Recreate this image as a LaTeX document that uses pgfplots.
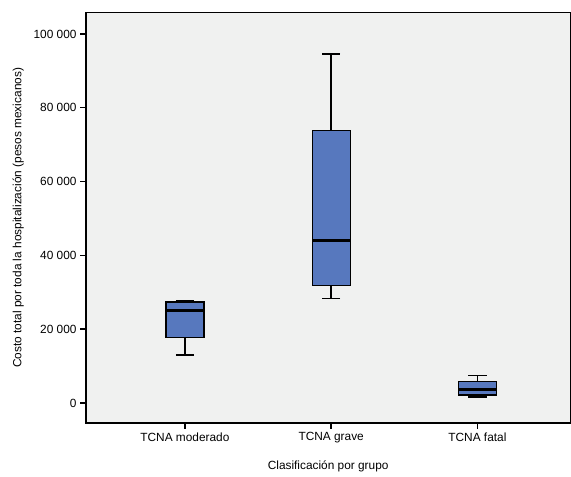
\documentclass[border=0pt]{standalone}
\usepackage{pgfplots}
\pgfplotsset{compat=1.18}
\usepgfplotslibrary{statistics}
\usepackage{fontspec}
\setmainfont{Liberation Sans}
\definecolor{bgc}{HTML}{F0F1F0}
\definecolor{boxc}{HTML}{5778BE}
\begin{document}
\begin{tikzpicture}
\begin{axis}[
  name=ax,
  scale only axis, width=484bp, height=410bp,
  xmin=0.324, xmax=3.635, ymin=-5.42, ymax=105.77,
  axis background/.style={fill=bgc},
  axis line style={line width=1.4bp},
  xtick={1,2,3}, xticklabels={TCNA moderado, TCNA grave, TCNA fatal},
  ytick={0,20,40,60,80,100},
  yticklabels={0,20 000,40 000,60 000,80 000,100 000},
  tick align=outside, xtick pos=bottom, ytick pos=left,
  major tick length=6bp, tick style={line width=1.4bp, black},
  ticklabel style={font=\fontsize{11.9}{14}\selectfont},
  label style={font=\fontsize{11.9}{14}\selectfont},
  xlabel={Clasificación por grupo},
  ylabel={Costo total por toda la hospitalización (pesos mexicanos)},
  xlabel style={at={(axis description cs:0.5,-0.105)}, anchor=center},
  ylabel style={at={(axis description cs:-0.140,0.5)}, anchor=center},
  boxplot/draw direction=y,
  boxplot/box extend=0.26,
  boxplot/whisker extend=0.125,
  boxplot/every median/.style={line width=3bp},
  boxplot/every box/.style={line width=1.3bp},
  boxplot/every whisker/.style={line width=1.5bp},
]
\addplot[draw=black, fill=boxc, line width=1.5bp, boxplot prepared={draw position=1, median=24.93, upper quartile=27.37, lower quartile=17.80, upper whisker=27.64, lower whisker=12.93}] coordinates {};
\addplot[draw=black, fill=boxc, line width=1.5bp, boxplot prepared={draw position=2, median=43.98, upper quartile=73.80, lower quartile=31.79, upper whisker=94.58, lower whisker=28.37}] coordinates {};
\addplot[draw=black, fill=boxc, line width=1.5bp, boxplot prepared={draw position=3, median=3.71, upper quartile=5.88, lower quartile=2.17, upper whisker=7.50, lower whisker=1.54}] coordinates {};
\end{axis}
\path[use as bounding box] ([xshift=-86bp,yshift=-54bp]ax.south west) rectangle ([yshift=12.7bp]ax.north east);
\end{tikzpicture}
\end{document}
